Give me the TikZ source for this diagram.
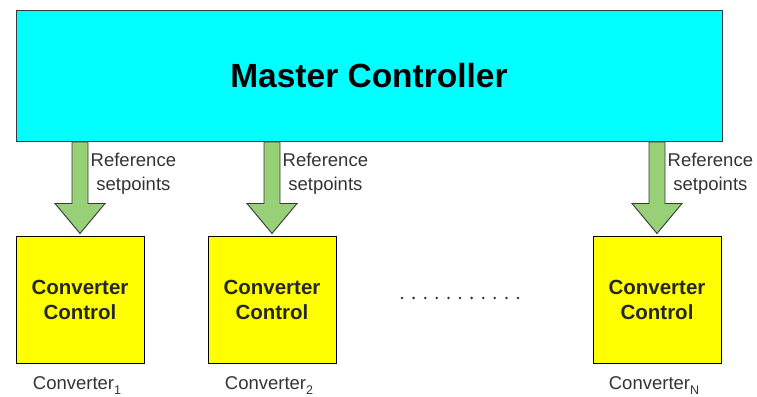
\documentclass[tikz,border=0pt]{standalone}
\usepackage{fontspec}
\setmainfont{Liberation Sans}
\usepackage{xcolor}
\usetikzlibrary{calc,positioning}

\definecolor{mastercyan}{HTML}{00FFFF}
\definecolor{convyellow}{HTML}{FFFF00}
\definecolor{arrowgreen}{HTML}{97D077}
\definecolor{edgegray}{HTML}{36393D}
\definecolor{labelgray}{HTML}{333333}

\newcommand{\lowsub}[1]{\raisebox{-.45ex}{\fontsize{12.5}{12.5}\selectfont #1}}

\begin{document}
\begin{tikzpicture}[x=1pt,y=1pt,
                    master/.style={draw=edgegray, line width=1pt, fill=mastercyan,
                                   minimum width=706pt, minimum height=130pt, inner sep=0pt,
                                   font=\fontsize{33.5}{38}\selectfont\bfseries},
                    convbox/.style={draw=black, line width=1pt, fill=convyellow,
                                    minimum width=128pt, minimum height=127pt, inner sep=0pt,
                                    align=center, text=black!85,
                                    font=\fontsize{20.5}{25}\selectfont\bfseries},
                    fatarrow/.style={draw=edgegray, line width=0.9pt, fill=arrowgreen, line join=miter},
                    reflabel/.style={align=center, anchor=west, inner sep=0pt, text=labelgray,
                                     font=\fontsize{18.5}{24}\selectfont},
                    convlabel/.style={inner sep=0pt, text=labelgray, font=\fontsize{18.5}{22}\selectfont},
                   ]

\useasboundingbox (0,0) rectangle (757,-396);

\node[master] (master) at (369,-76) {Master Controller};

% converter blocks
\node[convbox] (c1) at (80,-299.5) {Converter\\Control};
\node[convbox] (c2) at (272,-299.5) {Converter\\Control};
\node[convbox] (cN) at (657,-299.5) {Converter\\Control};

\foreach \i/\s in {1/1,2/2,N/N}{
  \draw[fatarrow] ($(master.south -| c\i.north)+(-8,-0.5)$) -- ($(c\i.north)+(-8,32)$)
        -- ($(c\i.north)+(-25,32)$) -- ($(c\i.north)+(0,2)$) -- ($(c\i.north)+(25,32)$)
        -- ($(c\i.north)+(8,32)$) -- ($(master.south -| c\i.north)+(8,-0.5)$) -- cycle;
  \node[reflabel] (ref\i) at ($(c\i.north)+(10.5,62)$) {Reference\\setpoints};
  \node[convlabel] (lab\i) at ($(c\i.south)+(-3,-22)$) {Converter\lowsub{\s}};
}

% dots between converter 2 and N
\foreach \k in {0,...,10}
  \fill[labelgray] (402+\k*11.6,-298) circle (1.4pt);

\end{tikzpicture}
\end{document}
